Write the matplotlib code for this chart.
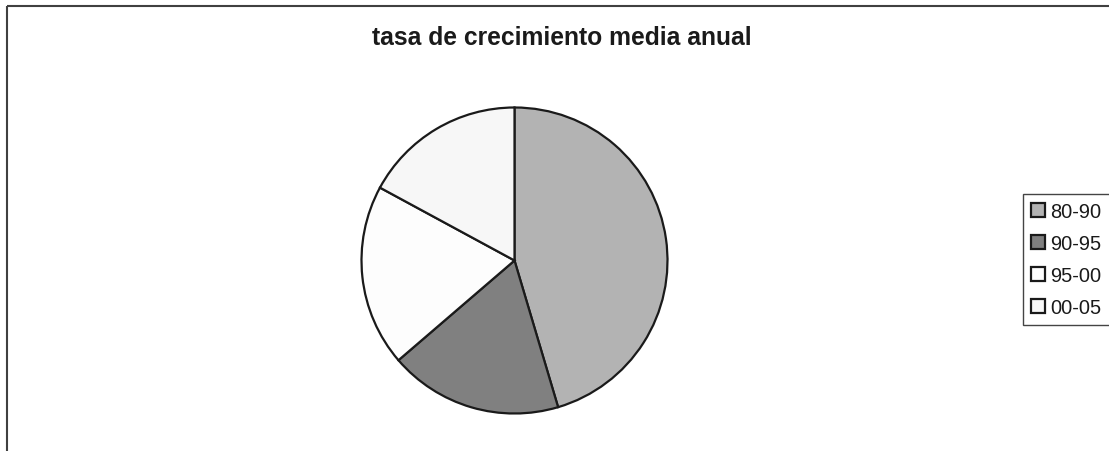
import matplotlib
matplotlib.use("Agg")
import matplotlib.pyplot as plt
from matplotlib.lines import Line2D

labels = ["80-90", "90-95", "95-00", "00-05"]
values = [45.4, 18.3, 19.2, 17.1]
colors = ["#b3b3b3", "#808080", "#fdfdfd", "#f7f7f7"]
title = "tasa de crecimiento media anual"

plt.rcParams['font.family'] = ['Liberation Sans', 'DejaVu Sans']

W, H = 1109, 452
fig = plt.figure(figsize=(W / 100, H / 100), dpi=100)
fig.patch.set_facecolor("white")

cx, cy, r = 514.5, 261.5, 153
ax = fig.add_axes([(cx - r) / W, (H - cy - r) / H, 2 * r / W, 2 * r / H])
wedges, _ = ax.pie(values, colors=colors, startangle=90, counterclock=False,
                   radius=1.0,
                   wedgeprops=dict(edgecolor="#1a1a1a", linewidth=1.6))
ax.set_xlim(-1.0, 1.0)
ax.set_ylim(-1.0, 1.0)
ax.set_aspect("auto")
ax.axis("off")

fig.text(562 / W, 1 - 45 / H, title, ha="center", va="baseline",
         fontsize=17.7, fontweight="bold", color="#1a1a1a")

leg = fig.legend(wedges, labels, loc="center left",
                 bbox_to_anchor=(1023 / W, 1 - 260.5 / H),
                 fontsize=14.4, frameon=True, fancybox=False,
                 edgecolor="#444444", framealpha=1,
                 handlelength=0.72, handleheight=0.72, handletextpad=0.25,
                 labelspacing=0.66, borderpad=0.4, borderaxespad=0)
leg.get_frame().set_linewidth(1.0)
for t in leg.get_texts():
    t.set_color("#1a1a1a")

fig.add_artist(Line2D([6.5 / W, 6.5 / W], [0, 1 - 6.5 / H], transform=fig.transFigure,
                      color="#404040", linewidth=1.5, solid_capstyle="butt"))
fig.add_artist(Line2D([6.5 / W, 1], [1 - 6.5 / H, 1 - 6.5 / H], transform=fig.transFigure,
                      color="#404040", linewidth=1.5, solid_capstyle="butt"))

fig.savefig("out.png", dpi=100, facecolor="white")
